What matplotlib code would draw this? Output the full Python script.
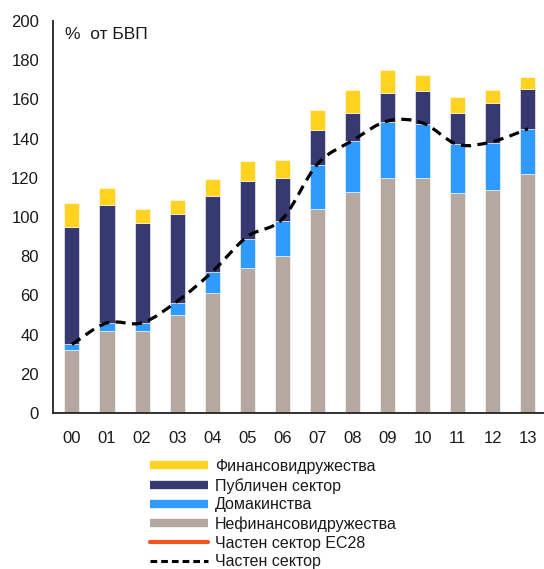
import matplotlib
matplotlib.use("Agg")
import matplotlib.pyplot as plt
import numpy as np
from matplotlib.path import Path
from matplotlib.patches import PathPatch
from matplotlib.lines import Line2D

plt.rcParams['font.family'] = ['Liberation Sans', 'DejaVu Sans']

years = ['00', '01', '02', '03', '04', '05', '06', '07', '08', '09', '10', '11', '12', '13']
nonfin = [32, 42, 42, 50, 61, 74, 80, 104, 113, 120, 120, 112, 114, 122]
households = [3, 4, 4, 6, 11, 15, 18, 22.5, 26, 28.5, 27.5, 25, 24, 23]
public = [60, 60, 51, 45.5, 38.5, 29.5, 22, 18, 14, 15, 17, 16, 20, 20.5]
financial = [12, 9, 7, 7, 9, 10, 9, 10, 12, 11.5, 8, 8, 7, 6]
private = [35, 46, 46, 57, 72, 90, 99, 127, 139, 149, 148, 137, 138.5, 145]

labels = ['Финансовидружества', 'Публичен сектор', 'Домакинства',
          'Нефинансовидружества', 'Частен сектор ЕС28', 'Частен сектор']

c_fin = '#FFD320'
c_pub = '#363A70'
c_hh = '#2F9BFF'
c_nf = '#B5A8A1'
c_eu = '#F0561D'

fig = plt.figure(figsize=(5.44, 5.69), dpi=100)
ax = fig.add_axes([53/544, (569-413)/569, 1 - 53/544, (413-21)/569])

x = np.arange(len(years))
w = 0.43
b1 = np.array(nonfin, dtype=float)
b2 = b1 + np.array(households)
b3 = b2 + np.array(public)
ax.bar(x, nonfin, w, color=c_nf, edgecolor='white', linewidth=0.4, zorder=2)
ax.bar(x, households, w, bottom=b1, color=c_hh, edgecolor='white', linewidth=0.4, zorder=2)
ax.bar(x, public, w, bottom=b2, color=c_pub, edgecolor='white', linewidth=0.4, zorder=2)
ax.bar(x, financial, w, bottom=b3, color=c_fin, edgecolor='white', linewidth=0.4, zorder=2)

# smoothed line (Catmull-Rom as cubic Bezier) through the data points
pts = np.column_stack([x, private]).astype(float)
verts = [tuple(pts[0])]
codes = [Path.MOVETO]
n = len(pts)
for i in range(n - 1):
    p0 = pts[i - 1] if i > 0 else pts[i]
    p1 = pts[i]
    p2 = pts[i + 1]
    p3 = pts[i + 2] if i + 2 < n else pts[i + 1]
    c1 = p1 + (p2 - p0) / 6.0
    c2 = p2 - (p3 - p1) / 6.0
    verts += [tuple(c1), tuple(c2), tuple(p2)]
    codes += [Path.CURVE4] * 3
patch = PathPatch(Path(verts, codes), facecolor='none', edgecolor='black',
                  linewidth=2.3, linestyle=(0, (3.2, 2.0)), zorder=3)
ax.add_patch(patch)

ax.set_xlim(-0.54, 13.46)
ax.set_ylim(0, 200)
ax.set_yticks(np.arange(0, 201, 20))
ax.set_xticks(x)
ax.set_xticklabels(years)
ax.tick_params(axis='both', length=0, labelsize=12, colors='#1a1a1a')
ax.tick_params(axis='y', pad=10)
ax.tick_params(axis='x', pad=13)
for s in ['top', 'right']:
    ax.spines[s].set_visible(False)
for s in ['left', 'bottom']:
    ax.spines[s].set_linewidth(1.3)
    ax.spines[s].set_color('#222222')

ax.text(0.025, 0.985, '%  от БВП', transform=ax.transAxes, fontsize=12.5,
        ha='left', va='top', color='#1a1a1a')

handles = [
    Line2D([], [], color=c_fin, lw=6, solid_capstyle='butt'),
    Line2D([], [], color=c_pub, lw=6, solid_capstyle='butt'),
    Line2D([], [], color=c_hh, lw=6, solid_capstyle='butt'),
    Line2D([], [], color=c_nf, lw=6, solid_capstyle='butt'),
    Line2D([], [], color=c_eu, lw=3, solid_capstyle='round'),
    Line2D([], [], color='black', lw=2.2, linestyle=(0, (2.2, 1.3))),
]
leg = fig.legend(handles, labels, loc='upper left', bbox_to_anchor=(150/544, 1 - 459/569),
                 frameon=False, fontsize=11.5, handlelength=3.6, handletextpad=0.45,
                 labelspacing=0.24, borderpad=0, borderaxespad=0)
for t in leg.get_texts():
    t.set_color('#1a1a1a')

fig.savefig('out.png', dpi=100)
